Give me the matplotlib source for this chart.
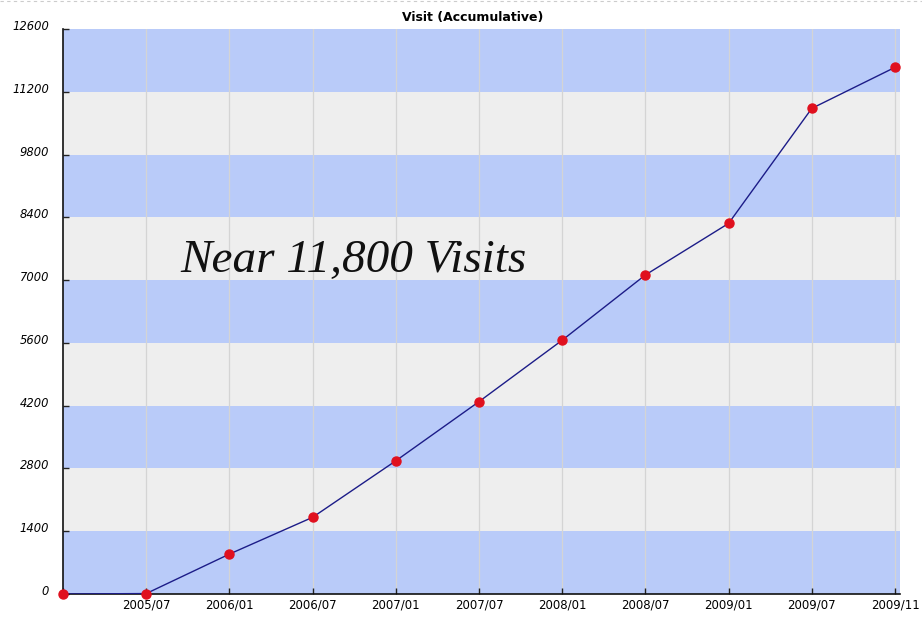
import matplotlib
matplotlib.use("Agg")
import matplotlib.pyplot as plt
from matplotlib.lines import Line2D
from matplotlib.transforms import ScaledTranslation

# Accumulated visits per half year
periods = ["", "2005/07", "2006/01", "2006/07", "2007/01", "2007/07",
           "2008/01", "2008/07", "2009/01", "2009/07", "2009/11"]
visits = [0, 10, 890, 1710, 2970, 4290, 5660, 7115, 8265, 10830, 11745]
y_ticks = [0, 1400, 2800, 4200, 5600, 7000, 8400, 9800, 11200, 12600]

title = "Visit (Accumulative)"
note = "Near 11,800 Visits"

band_blue = "#b9cbf9"
band_grey = "#eeeeee"

fig = plt.figure(figsize=(9.22, 6.17), dpi=100)
ax = fig.add_axes([63 / 922, 1 - 594 / 617, (900 - 63) / 922, (594 - 29) / 617])

x = list(range(len(periods)))
ax.set_xlim(0, len(periods) - 1 + 0.06)
ax.set_ylim(y_ticks[0], y_ticks[-1])

# alternating horizontal bands, blue at the bottom
for i in range(len(y_ticks) - 1):
    color = band_blue if i % 2 == 0 else band_grey
    ax.axhspan(y_ticks[i], y_ticks[i + 1], color=color, lw=0, zorder=0)

# vertical grid at every period
for xi in x[1:]:
    ax.axvline(xi, color="#d4d4d4", lw=0.9, zorder=1)

ax.plot(x, visits, color="#1c1c88", lw=1.0, zorder=3)
ax.plot(x, visits, ls="none", marker="o", ms=6.5, color="#e0101e",
        mec="#e0101e", zorder=4, clip_on=False)

ax.set_xticks(x)
ax.set_xticklabels(periods, fontsize=8.5, family="DejaVu Sans")
ax.set_yticks(y_ticks)
ax.set_yticklabels([str(v) for v in y_ticks], fontsize=8.3, style="italic",
                   family="DejaVu Sans")
ax.tick_params(axis="both", direction="in", length=4, width=1, color="#222222")
ax.tick_params(axis="y", pad=10)
ax.tick_params(axis="x", pad=3)
for lbl in ax.get_yticklabels():
    lbl.set_transform(lbl.get_transform() + ScaledTranslation(0, 4 / 100, fig.dpi_scale_trans))

for side in ("top", "right"):
    ax.spines[side].set_visible(False)
for side in ("left", "bottom"):
    ax.spines[side].set_color("#111111")
    ax.spines[side].set_linewidth(1.2)

fig.text(473 / 922, 1 - 17 / 617, title, ha="center", va="center",
         fontsize=9, fontweight="bold", family="DejaVu Sans")

fig.text(180 / 922, 1 - 272 / 617, note, ha="left", va="baseline",
         fontsize=34, style="italic", family="Liberation Serif", color="#111111")

# dashed frame line along the top edge
fig.add_artist(Line2D([0, 1], [0.998, 0.998], transform=fig.transFigure,
                      color="#cccccc", lw=0.8, ls=(0, (3, 3))))

fig.savefig("out.png", dpi=100)
